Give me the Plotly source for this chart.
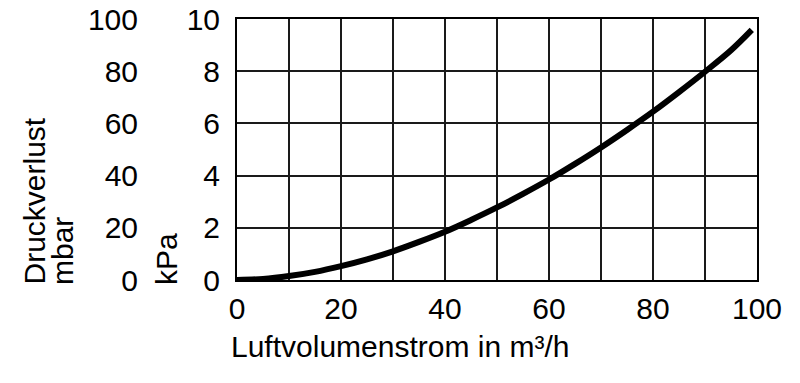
import plotly.graph_objects as go

# Data
flow = [0, 5, 10, 15, 20, 25, 30, 35, 40, 45, 50, 55, 60, 65, 70, 75, 80, 85, 90, 95, 99]
dp_kpa = [0, 0.04, 0.15, 0.31, 0.53, 0.79, 1.10, 1.46, 1.85, 2.30, 2.78, 3.30, 3.85, 4.45, 5.08, 5.75, 6.45, 7.20, 7.98, 8.80, 9.58]
kpa_ticks = [0, 2, 4, 6, 8, 10]
mbar_ticks = [0, 20, 40, 60, 80, 100]
x_ticks = [0, 20, 40, 60, 80, 100]

W, H = 800, 383
L, R, T, B = 100, 43, 19, 103
plot_w = W - L - R
x0_px = 237
dom0 = (x0_px - L) / plot_w
mbar_axis_px = 142
mbar_pos = (mbar_axis_px - L) / plot_w

FONT = "Liberation Sans, Arial, sans-serif"
FS = 30

fig = go.Figure()
fig.add_trace(go.Scatter(x=flow, y=dp_kpa, mode="lines", line=dict(color="black", width=6, shape="spline"),
                         showlegend=False, hoverinfo="skip"))
# invisible trace to activate mbar axis
fig.add_trace(go.Scatter(x=[0, 100], y=[0, 100], yaxis="y2", mode="lines", line=dict(width=0),
                         showlegend=False, hoverinfo="skip", opacity=0))

fig.update_layout(
    width=W, height=H, margin=dict(l=L, r=R, t=T, b=B, autoexpand=False),
    plot_bgcolor="white", paper_bgcolor="white",
    font=dict(family=FONT, size=FS, color="black"),
    xaxis=dict(domain=[dom0, 1], range=[0, 100], tickvals=x_ticks, showgrid=True, gridcolor="#1a1a1a", gridwidth=1.5,
               minor=dict(dtick=10, showgrid=True, gridcolor="#1a1a1a", gridwidth=1.5),
               showline=True, mirror=True, linecolor="black", linewidth=2, zeroline=False,
               ticks="", ticklabelstandoff=1, automargin=False),
    yaxis=dict(range=[0, 10], tickvals=kpa_ticks, showgrid=True, gridcolor="#1a1a1a", gridwidth=1.5,
               showline=True, mirror=True, linecolor="black", linewidth=2, zeroline=False,
               ticks="", ticklabelstandoff=9, automargin=False),
    yaxis2=dict(range=[0, 100], tickvals=mbar_ticks, overlaying="y", anchor="free", position=mbar_pos,
                side="left", showgrid=False, showline=False, zeroline=False, ticks="", ticklabelstandoff=4,
                automargin=False),
)

ann = dict(xref="paper", yref="paper", showarrow=False, font=dict(family=FONT, size=FS, color="black"))
def px_x(px):
    return (px - L) / plot_w
def px_y(py):
    return (H - B - py) / (H - T - B)

fig.add_annotation(text="Luftvolumenstrom in m³/h", x=px_x(229), y=px_y(346), xanchor="left", yanchor="middle", **ann)
fig.add_annotation(text="Druckverlust", x=px_x(34), y=px_y(287), textangle=-90, xanchor="center", yanchor="bottom", **ann)
fig.add_annotation(text="mbar", x=px_x(62), y=px_y(287), textangle=-90, xanchor="center", yanchor="bottom", **ann)
fig.add_annotation(text="kPa", x=px_x(166), y=px_y(287), textangle=-90, xanchor="center", yanchor="bottom", **ann)

fig.write_html("out.html")
